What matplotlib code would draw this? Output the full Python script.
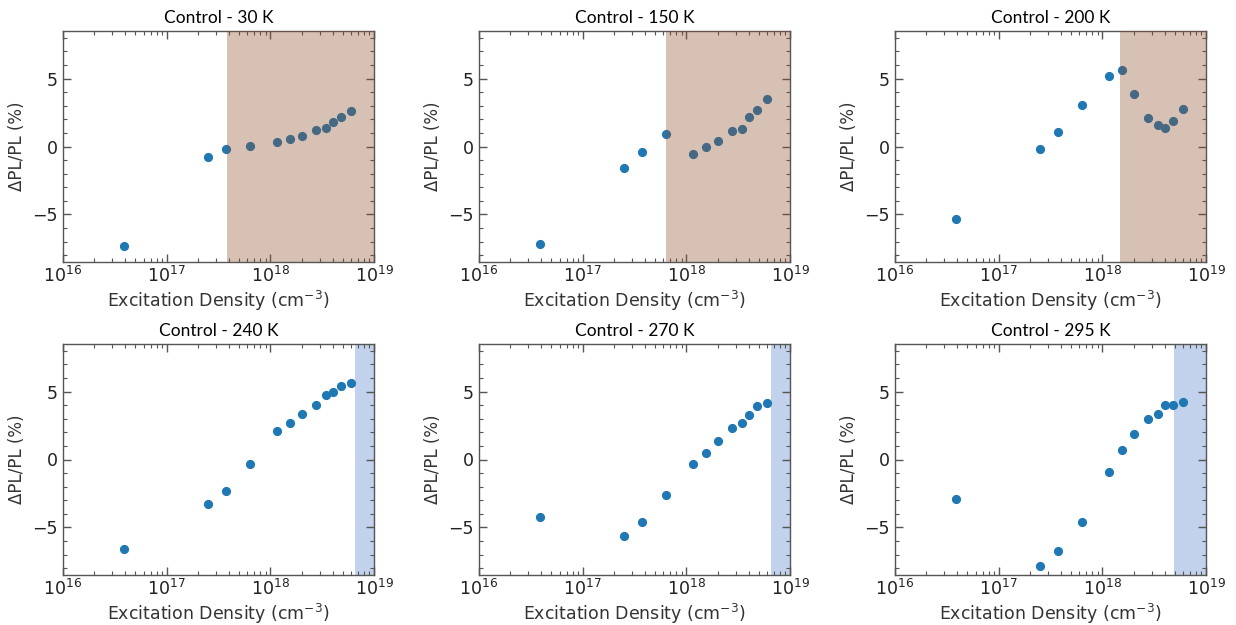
import matplotlib
matplotlib.use("Agg")
import matplotlib.pyplot as plt
from matplotlib.ticker import MultipleLocator, LogLocator, NullFormatter

plt.rcParams["font.family"] = ["DejaVu Sans"]
plt.rcParams["mathtext.fontset"] = "dejavusans"

# ---- data ----
density = [3.87e16, 2.5e17, 3.75e17, 6.3e17, 1.17e18, 1.55e18, 2.03e18,
           2.73e18, 3.45e18, 4.0e18, 4.85e18, 6.05e18]

titles = ["Control - 30 K", "Control - 150 K", "Control - 200 K",
          "Control - 240 K", "Control - 270 K", "Control - 295 K"]

dpl_30 = [-7.33, -0.77, -0.2, 0.02, 0.32, 0.52, 0.80, 1.19, 1.37, 1.79, 2.16, 2.61]
dpl_150 = [-7.15, -1.6, -0.37, 0.94, -0.54, -0.07, 0.40, 1.14, 1.26, 2.15, 2.72, 3.47]
dpl_200 = [-5.3, -0.2, 1.07, 3.06, 5.22, 5.62, 3.86, 2.11, 1.57, 1.39, 1.89, 2.79]
dpl_240 = [-6.6, -3.24, -2.3, -0.3, 2.13, 2.7, 3.36, 4.03, 4.75, 4.98, 5.42, 5.62]
dpl_270 = [-4.22, -5.63, -4.62, -2.64, -0.3, 0.47, 1.33, 2.32, 2.67, 3.31, 3.93, 4.15]
dpl_295 = [-2.89, -7.83, -6.72, -4.62, -0.89, 0.69, 1.88, 2.99, 3.34, 3.98, 3.98, 4.25]
series = [dpl_30, dpl_150, dpl_200, dpl_240, dpl_270, dpl_295]

shade_start = [3.85e17, 6.4e17, 1.47e18, 6.5e18, 6.6e18, 4.95e18]
shade_end = 1e19
shade_kind = ["brown", "brown", "brown", "blue", "blue", "blue"]

# ---- layout ----
W, H = 1236, 625
fig = plt.figure(figsize=(W / 100, H / 100), dpi=100)

col_left = [63, 479, 895]
row_top = [31, 344]
ax_w, ax_h = 311, 231

spine_col = "#555555"
for i in range(6):
    r, c = divmod(i, 3)
    left = col_left[c] / W
    bottom = (H - row_top[r] - ax_h) / H
    ax = fig.add_axes([left, bottom, ax_w / W, ax_h / H])
    ax.set_xscale("log")
    ax.set_xlim(1e16, 1e19)
    ax.set_ylim(-8.5, 8.5)

    if shade_kind[i] == "brown":
        ax.axvspan(shade_start[i], shade_end, facecolor="#8d4e29", alpha=0.35,
                   edgecolor="none", zorder=3)
    else:
        ax.axvspan(shade_start[i], shade_end, facecolor="#4472c4", alpha=0.32,
                   edgecolor="none", zorder=1)

    ax.plot(density, series[i], "o", color="#1f77b4", ms=5.6, zorder=2)

    ax.set_title(titles[i], fontsize=12.5, family=["Lato", "DejaVu Sans"], pad=6)
    ax.set_xlabel("Excitation Density (cm$^{-3}$)", fontsize=12.5,
                  color="#333333", labelpad=2)
    ax.set_ylabel("\u0394PL/PL (%)", fontsize=12, color="#333333", labelpad=4)

    ax.yaxis.set_major_locator(MultipleLocator(5))
    ax.yaxis.set_minor_locator(MultipleLocator(1))
    ax.xaxis.set_major_locator(LogLocator(base=10, numticks=10))
    ax.xaxis.set_minor_locator(LogLocator(base=10, subs=range(2, 10), numticks=20))
    ax.xaxis.set_minor_formatter(NullFormatter())

    ax.tick_params(which="both", direction="in", top=True, right=True,
                   color=spine_col, labelcolor="#222222", labelsize=12.5)
    ax.tick_params(which="major", length=6, width=1)
    ax.tick_params(which="minor", length=3, width=0.8)
    ax.tick_params(axis="x", which="major", pad=3)
    ax.tick_params(axis="y", which="major", pad=4)
    for s in ax.spines.values():
        s.set_color(spine_col)
        s.set_linewidth(1.0)

fig.savefig("out.png", dpi=100)
